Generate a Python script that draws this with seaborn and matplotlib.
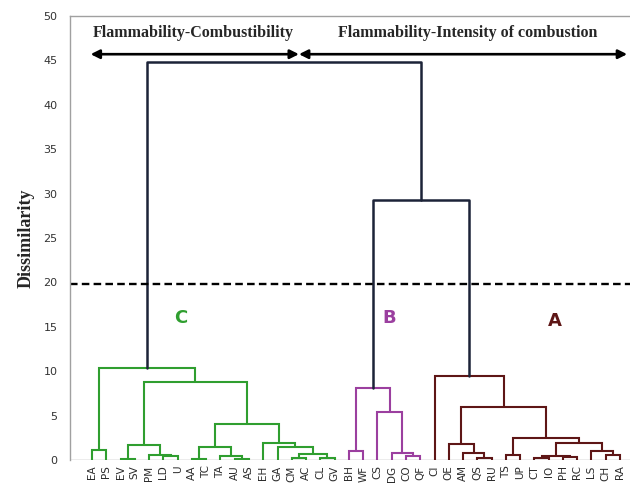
import matplotlib
matplotlib.use("Agg")
import matplotlib.pyplot as plt
import seaborn as sns

# Leaf order along the x axis
LEAVES = ["EA", "PS", "EV", "SV", "PM", "LD", "U", "AA", "TC", "TA", "AU", "AS",
          "EH", "GA", "CM", "AC", "CL", "GV",
          "BH", "WF", "CS", "DG", "CO", "QF",
          "CI", "OE", "AM", "QS", "RU", "TS", "UP", "CT", "IO", "PH", "RC", "LS", "CH", "RA"]

# Cluster trees: (left, right, merge height)
TREE_C = (("EA", "PS", 1.1),
          ((("EV", "SV", 0.15), ("PM", ("LD", "U", 0.4), 0.6), 1.65),
           ((("AA", "TC", 0.1), ("TA", ("AU", "AS", 0.15), 0.4), 1.4),
            ("EH", ("GA", (("CM", "AC", 0.2), ("CL", "GV", 0.25), 0.7), 1.4), 1.95),
            4.0),
           8.8),
          10.4)
TREE_B = (("BH", "WF", 0.95),
          ("CS", ("DG", ("CO", "QF", 0.4), 0.8), 5.4),
          8.1)
TREE_A = ("CI",
          (("OE", ("AM", ("QS", "RU", 0.25), 0.8), 1.75),
           (("TS", "UP", 0.5),
            ((("CT", "IO", 0.2), ("PH", "RC", 0.3), 0.45),
             ("LS", ("CH", "RA", 0.5), 0.95), 1.95),
            2.45),
           6.0),
          9.4)
HEIGHT_AB = 29.3
HEIGHT_ROOT = 44.8
CUT_LEVEL = 19.8

COLORS = {"C": "#2f9e2f", "B": "#9b3f9f", "A": "#5e1616", "root": "#1c2338"}
CLUSTER_LABELS = [("C", 6.2, 16.0), ("B", 20.8, 16.0), ("A", 32.4, 15.6)]
GROUP_TITLES = [("Flammability-Combustibility", 7.1), ("Flammability-Intensity of combustion", 26.3)]
GROUP_SPLIT = 14.5

sns.set_theme(style="white")

fig = plt.figure(figsize=(6.3, 5.01), dpi=100)
ax = fig.add_axes([0.111, 0.082, 0.889, 0.886])


def draw(node, color, lw=1.5):
    """Draws a tree node, returns (x, height)."""
    if isinstance(node, str):
        return LEAVES.index(node), 0.0
    left, right, h = node
    xl, hl = draw(left, color, lw)
    xr, hr = draw(right, color, lw)
    ax.plot([xl, xl, xr, xr], [hl, h, h, hr], color=color, lw=lw, solid_joinstyle="miter")
    return (xl + xr) / 2, h


xc, hc = draw(TREE_C, COLORS["C"])
xb, hb = draw(TREE_B, COLORS["B"])
xa, ha = draw(TREE_A, COLORS["A"])

# upper links
ax.plot([xb, xb, xa, xa], [hb, HEIGHT_AB, HEIGHT_AB, ha], color=COLORS["root"], lw=1.8)
xab = (xb + xa) / 2
ax.plot([xc, xc, xab, xab], [hc, HEIGHT_ROOT, HEIGHT_ROOT, HEIGHT_AB], color=COLORS["root"], lw=1.8)

ax.axhline(CUT_LEVEL, color="black", lw=1.7, ls=(0, (3.2, 1.8)))
ax.axhline(0, color="#a0a0a0", lw=1.0, zorder=0)

# group arrows and titles
arrow_y = 45.7
arr = dict(arrowstyle="<|-|>", color="black", lw=1.9, mutation_scale=13, shrinkA=0, shrinkB=0)
ax.annotate("", xy=(-0.1, arrow_y), xytext=(GROUP_SPLIT, arrow_y), arrowprops=arr)
ax.annotate("", xy=(GROUP_SPLIT, arrow_y), xytext=(37.5, arrow_y), arrowprops=arr)
for txt, xpos in GROUP_TITLES:
    ax.text(xpos, 48.1, txt, ha="center", va="center", fontsize=11.5, fontweight="bold",
            family="Liberation Serif")

for lab, xpos, ypos in CLUSTER_LABELS:
    ax.text(xpos, ypos, lab, ha="center", va="center", fontsize=13, fontweight="bold",
            color=COLORS[lab], family="DejaVu Sans")

ax.set_xlim(-1.55, 37.7)
ax.set_ylim(0, 50)
ax.set_yticks(range(0, 51, 5))
ax.set_xticks(range(len(LEAVES)))
ax.set_xticklabels(LEAVES, rotation=90, fontsize=7.5, color="#2a2a2a")
ax.tick_params(axis="x", length=0, pad=4)
ax.tick_params(axis="y", direction="inout", length=6, width=0.8, color="#999999",
               labelsize=8, labelcolor="#333333", pad=6)
ax.set_ylabel("Dissimilarity", fontsize=13, fontweight="bold", family="Liberation Serif", labelpad=6)

for side in ["right", "bottom"]:
    ax.spines[side].set_visible(False)
for side in ["left", "top"]:
    ax.spines[side].set_color("#a0a0a0")
    ax.spines[side].set_linewidth(1.0)

fig.savefig("out.png", dpi=100)
